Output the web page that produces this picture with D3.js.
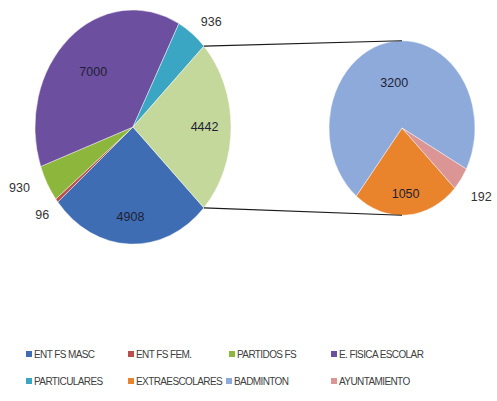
<!DOCTYPE html>
<html>
<head>
<meta charset="utf-8">
<script src="https://cdn.jsdelivr.net/npm/d3@7"></script>
<style>
  body { margin: 0; background: #fff; }
  svg { display: block; }
</style>
</head>
<body>
<div id="chart"></div>
<script>
// datos del gráfico (pie-of-pie)
var mainNames = ["ENT FS MASC", "ENT FS FEM.", "PARTIDOS FS", "E. FISICA ESCOLAR", "PARTICULARES", "OTROS"];
var mainValues = [4908, 96, 930, 7000, 936, 4442];
var subNames = ["EXTRAESCOLARES", "BADMINTON", "AYUNTAMIENTO"];
var subValues = [1050, 3200, 192];
var legendNames = ["ENT FS MASC", "ENT FS FEM.", "PARTIDOS FS", "E. FISICA ESCOLAR",
                   "PARTICULARES", "EXTRAESCOLARES", "BADMINTON", "AYUNTAMIENTO"];

var colors = {
    "ENT FS MASC": "#3f6db3",
    "ENT FS FEM.": "#b9504d",
    "PARTIDOS FS": "#8db63c",
    "E. FISICA ESCOLAR": "#6c4f9f",
    "PARTICULARES": "#3ba6c4",
    "OTROS": "#c4d89b",
    "EXTRAESCOLARES": "#ea842c",
    "BADMINTON": "#8eaadb",
    "AYUNTAMIENTO": "#db9594"
};

var width = 497, height = 401;
var sy = 1.195; // la imagen está estirada en vertical

var svg = d3.select("#chart").append("svg")
    .attr("width", width)
    .attr("height", height);

var total = d3.sum(mainValues);
var otherAngle = mainValues[5] / total * 2 * Math.PI;
var start = Math.PI / 2 + otherAngle / 2;

//pie principal
var mainR = 98, mainCx = 133, mainCy = 127;
var pieMain = d3.pie().sort(null).value(function (d) { return d; })
    .startAngle(start).endAngle(start + 2 * Math.PI);
var mainArcs = pieMain(mainValues);
var arcMain = d3.arc().innerRadius(0).outerRadius(mainR);

var g1 = svg.append("g")
    .attr("transform", "translate(" + mainCx + "," + mainCy + ") scale(1," + sy + ")");
g1.selectAll("path")
    .data(mainArcs)
    .enter()
    .append("path")
    .attr("d", arcMain)
    .attr("fill", function (d, i) { return colors[mainNames[i]]; })
    .attr("stroke", "#ffffff")
    .attr("stroke-width", 0.4);

//pie secundario
var subR = 73, subCx = 402, subCy = 128;
var pieSub = d3.pie().sort(null).value(function (d) { return d; })
    .startAngle(start).endAngle(start + 2 * Math.PI);
var subArcs = pieSub(subValues);
var arcSub = d3.arc().innerRadius(0).outerRadius(subR);

var g2 = svg.append("g")
    .attr("transform", "translate(" + subCx + "," + subCy + ") scale(1," + sy + ")");
g2.selectAll("path")
    .data(subArcs)
    .enter()
    .append("path")
    .attr("d", arcSub)
    .attr("fill", function (d, i) { return colors[subNames[i]]; })
    .attr("stroke", "#ffffff")
    .attr("stroke-width", 0.4);

//líneas de conexión
function edgePoint(cx, cy, r, a) {
    return [cx + r * Math.sin(a), cy - r * Math.cos(a) * sy];
}
var other = mainArcs[5];
var lines = [
    [edgePoint(mainCx, mainCy, mainR, other.startAngle), edgePoint(subCx, subCy, subR, 0)],
    [edgePoint(mainCx, mainCy, mainR, other.endAngle), edgePoint(subCx, subCy, subR, Math.PI)]
];
svg.selectAll("line.conn")
    .data(lines)
    .enter()
    .append("line")
    .attr("class", "conn")
    .attr("x1", function (d) { return d[0][0]; })
    .attr("y1", function (d) { return d[0][1]; })
    .attr("x2", function (d) { return d[1][0]; })
    .attr("y2", function (d) { return d[1][1]; })
    .attr("stroke", "#1a1a1a")
    .attr("stroke-width", 1.1);

//etiquetas (factor de radio y desplazamiento de ángulo)
var mainLabelR = [0.77, 1.19, 1.27, 0.62, 1.2, 0.73];
var mainLabelDa = [0, 0, 0.08, 0, 0.08, 0];
var subLabelR = [0.75, 0.53, 1.34];

function labelPos(cx, cy, r, d, k, da) {
    var a = (d.startAngle + d.endAngle) / 2 + (da || 0);
    return [cx + r * k * Math.sin(a), cy - r * k * Math.cos(a) * sy];
}

svg.append("g").selectAll("text")
    .data(mainArcs)
    .enter()
    .append("text")
    .attr("x", function (d, i) { return labelPos(mainCx, mainCy, mainR, d, mainLabelR[i], mainLabelDa[i])[0]; })
    .attr("y", function (d, i) { return labelPos(mainCx, mainCy, mainR, d, mainLabelR[i], mainLabelDa[i])[1]; })
    .attr("dy", "0.35em")
    .attr("text-anchor", "middle")
    .attr("font-family", "Liberation Sans, Arial, sans-serif")
    .attr("font-size", 12.5)
    .attr("fill", function (d, i) { return mainLabelR[i] > 1 ? "#333" : "#1f1f33"; })
    .text(function (d) { return d.data; });

svg.append("g").selectAll("text")
    .data(subArcs)
    .enter()
    .append("text")
    .attr("x", function (d, i) { return labelPos(subCx, subCy, subR, d, subLabelR[i])[0]; })
    .attr("y", function (d, i) { return labelPos(subCx, subCy, subR, d, subLabelR[i])[1]; })
    .attr("dy", "0.35em")
    .attr("text-anchor", "middle")
    .attr("font-family", "Liberation Sans, Arial, sans-serif")
    .attr("font-size", 12.5)
    .attr("fill", function (d, i) { return subLabelR[i] > 1 ? "#333" : "#1f1f33"; })
    .text(function (d) { return d.data; });

//leyenda
var colX = [26, 128, 229, 331];
var rowY = [354, 381];
var legend = svg.append("g").attr("id", "legend");
var item = legend.selectAll("g.item")
    .data(legendNames)
    .enter()
    .append("g")
    .attr("class", "item")
    .attr("transform", function (d, i) {
        var x = colX[i % 4];
        if (i === 6) x = 226;
        return "translate(" + x + "," + rowY[Math.floor(i / 4)] + ")";
    });
item.append("rect")
    .attr("x", 0)
    .attr("y", -3)
    .attr("width", 6)
    .attr("height", 6)
    .attr("fill", function (d) { return colors[d]; });
item.append("text")
    .attr("x", 8)
    .attr("y", 0)
    .attr("dy", "0.35em")
    .attr("font-family", "Liberation Sans, Arial, sans-serif")
    .attr("font-size", 10)
    .attr("letter-spacing", -0.6)
    .attr("fill", "#404040")
    .text(function (d) { return d; });
</script>
</body>
</html>
